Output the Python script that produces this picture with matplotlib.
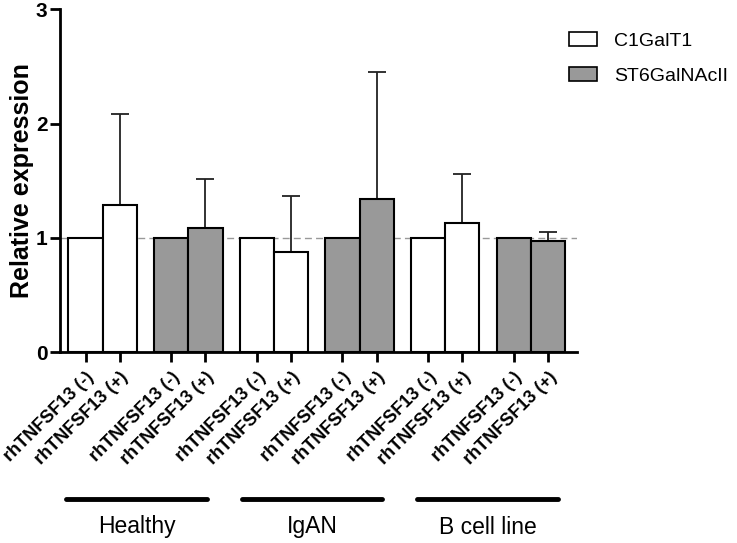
import numpy as np
import matplotlib; matplotlib.use("Agg")
import matplotlib.pyplot as plt
from matplotlib.lines import Line2D
from matplotlib.patches import Patch

plt.rcParams['font.family'] = ['Liberation Sans', 'DejaVu Sans']

# ---------- data ----------
groups = ["Healthy", "IgAN", "B cell line"]
genes = ["C1GalT1", "ST6GalNAcII"]
treatments = ["rhTNFSF13 (-)", "rhTNFSF13 (+)"]
# bar order inside each group: C1GalT1 (-), C1GalT1 (+), ST6GalNAcII (-), ST6GalNAcII (+)
values = [1.0, 1.29, 1.0, 1.085,
          1.0, 0.875, 1.0, 1.34,
          1.0, 1.13, 1.0, 0.975]
err_up = [0.0, 0.795, 0.0, 0.43,
          0.0, 0.49, 0.0, 1.11,
          0.0, 0.426, 0.0, 0.078]
bar_gene = [0, 0, 1, 1] * 3
bar_treat = [0, 1, 0, 1] * 3
gene_colors = ["white", "#999999"]

# group underline spans, figure pixels (layout only)
group_spans = [(66, 207), (242, 382), (417, 558)]

# ---------- layout ----------
W, H = 737, 543
pair_step = 2.5
x = []
for g in range(len(groups)):
    for p in range(2):
        base = (2 * g + p) * pair_step
        x += [base, base + 1]
x = np.array(x)
vals = np.array(values); err = np.array(err_up)

fig = plt.figure(figsize=(W / 100, H / 100), dpi=100)
ax = fig.add_axes([60/W, 1 - 352/H, 517/W, (352 - 9.3)/H])

ax.axhline(1, color="#999999", ls=(0, (5, 3)), lw=1, zorder=0)
ax.bar(x, vals, width=1.0, color=[gene_colors[i] for i in bar_gene],
       edgecolor="black", linewidth=1.5, zorder=2)
m = err > 0
ax.errorbar(x[m], vals[m], yerr=[np.zeros(m.sum()), err[m]], fmt="none",
            ecolor="#222222", elinewidth=1.3, capsize=6.5, capthick=1.3, zorder=1)

ax.set_xlim(-0.745, 14.35)
ax.set_ylim(0, 3)
ax.set_yticks([0, 1, 2, 3])
ax.set_yticklabels(["0", "1", "2", "3"], fontsize=15, fontweight="bold")
ax.set_xticks(x)
ax.set_xticklabels([treatments[t] for t in bar_treat], rotation=45, ha="right",
                   rotation_mode="anchor", fontsize=13, fontweight="bold")
ax.tick_params(axis="both", direction="out", length=7, width=2, pad=2)
ax.tick_params(axis="x", pad=5)
for s in ["top", "right"]:
    ax.spines[s].set_visible(False)
for s in ["left", "bottom"]:
    ax.spines[s].set_linewidth(2)
ax.set_ylabel("Relative expression", fontsize=18, fontweight="bold")
ax.yaxis.set_label_coords(-0.05, 0.5)

# group underlines + labels
for name, (x0, x1) in zip(groups, group_spans):
    fig.add_artist(Line2D([x0 / W, x1 / W], [1 - 499/H] * 2,
                          color="black", lw=3.5, solid_capstyle="round"))
    fig.text((x0 + x1) / 2 / W, 1 - 527/H, name, ha="center", va="center",
             fontsize=16.5)

handles = [Patch(facecolor=gene_colors[i], edgecolor="black", linewidth=1.2)
           for i in range(len(genes))]
fig.legend(handles, genes, loc="upper left", bbox_to_anchor=(569/W, 1 - 32/H),
           frameon=False, fontsize=14, handlelength=1.45, handleheight=0.7,
           handletextpad=0.85, labelspacing=0.9, borderpad=0, borderaxespad=0)

fig.savefig("out.png", dpi=100)
